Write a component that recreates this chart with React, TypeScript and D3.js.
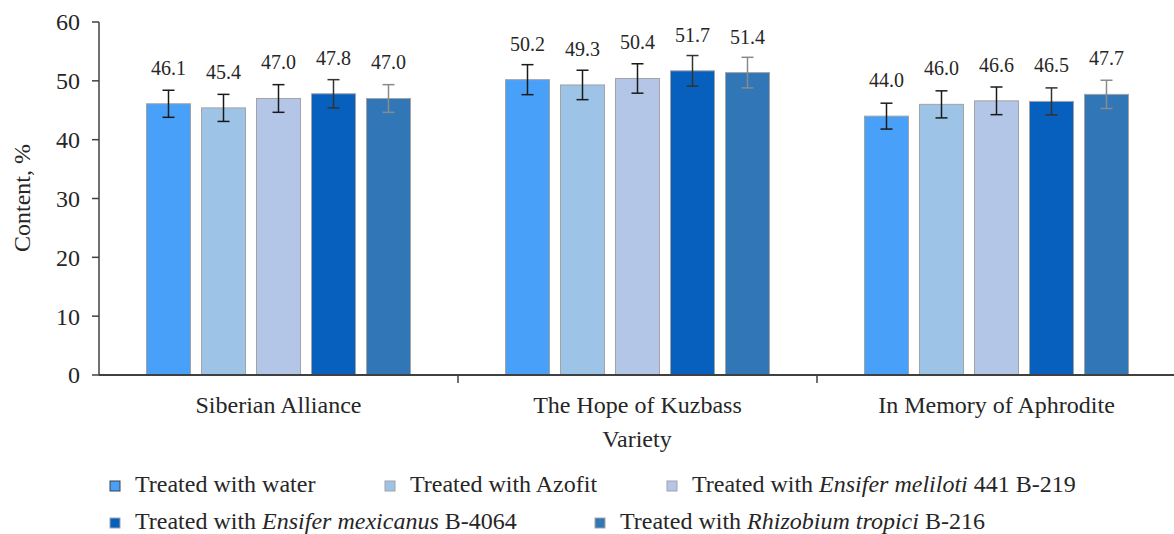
import React from "react";
import * as d3 from "d3";

const categories = ["Siberian Alliance", "The Hope of Kuzbass", "In Memory of Aphrodite"];
const seriesNames = ["water", "Azofit", "meliloti", "mexicanus", "tropici"];
const waterValues = [46.1, 50.2, 44.0];
const azofitValues = [45.4, 49.3, 46.0];
const melilotiValues = [47.0, 50.4, 46.6];
const mexicanusValues = [47.8, 51.7, 46.5];
const tropiciValues = [47.0, 51.4, 47.7];
const waterErrors = [2.3, 2.55, 2.2];
const azofitErrors = [2.3, 2.5, 2.3];
const melilotiErrors = [2.35, 2.5, 2.35];
const mexicanusErrors = [2.4, 2.6, 2.3];
const tropiciErrors = [2.35, 2.6, 2.4];
const yTicks = [0, 10, 20, 30, 40, 50, 60];

// legend labels: [plain prefix, italic part, plain suffix]
const legendLabels: [string, string, string][] = [
  ["Treated with water", "", ""],
  ["Treated with Azofit", "", ""],
  ["Treated with ", "Ensifer meliloti", " 441 B-219"],
  ["Treated with ", "Ensifer mexicanus", " B-4064"],
  ["Treated with ", "Rhizobium tropici", " B-216"],
];

const values = [waterValues, azofitValues, melilotiValues, mexicanusValues, tropiciValues];
const errors = [waterErrors, azofitErrors, melilotiErrors, mexicanusErrors, tropiciErrors];

const colors = ["#48a0f9", "#9dc3e6", "#b4c6e7", "#0760bd", "#3177b8"];
const errColors = ["#1a1a1a", "#1a1a1a", "#1a1a1a", "#333333", "#8a8a8a"];

// legend layout (text x, row baseline)
const legendPos = [
  { x: 135, y: 492 },
  { x: 410, y: 492 },
  { x: 692, y: 492 },
  { x: 135, y: 529 },
  { x: 620, y: 529 },
];

const W = 1174;
const H = 534;
const FONT = "'Liberation Serif', 'Times New Roman', serif";

export default function App() {
  const y = d3.scaleLinear().domain([0, 60]).range([375, 22]);
  const x0 = d3.scaleBand<string>().domain(categories).range([99, 1176]).padding(0);
  const x1 = d3
    .scaleBand<string>()
    .domain(seriesNames)
    .range([0, 264])
    .paddingInner(0.2)
    .paddingOuter(0);
  const groupOffset = (x0.bandwidth() - 264) / 2;
  const bw = x1.bandwidth();

  return (
    <svg width={W} height={H} style={{ position: "absolute", left: 0, top: 0 }} fontFamily={FONT}>
      <rect x={0} y={0} width={W} height={H} fill="#ffffff" />
      {/* bars */}
      {categories.map((c, ci) =>
        seriesNames.map((s, si) => {
          const v = values[si][ci];
          const bx = (x0(c) as number) + groupOffset + (x1(s) as number);
          return (
            <rect
              key={`b-${ci}-${si}`}
              x={bx}
              y={y(v)}
              width={bw}
              height={y(0) - y(v)}
              fill={colors[si]}
              stroke="#a3a3a3"
              strokeWidth={1}
            />
          );
        })
      )}
      {/* error bars */}
      {categories.map((c, ci) =>
        seriesNames.map((s, si) => {
          const v = values[si][ci];
          const e = errors[si][ci];
          const cx = (x0(c) as number) + groupOffset + (x1(s) as number) + bw / 2;
          const col = errColors[si];
          return (
            <g key={`e-${ci}-${si}`} stroke={col} strokeWidth={1.5}>
              <line x1={cx} x2={cx} y1={y(v + e)} y2={y(v - e)} />
              <line x1={cx - 6} x2={cx + 6} y1={y(v + e)} y2={y(v + e)} />
              <line x1={cx - 6} x2={cx + 6} y1={y(v - e)} y2={y(v - e)} />
            </g>
          );
        })
      )}
      {/* data labels */}
      {categories.map((c, ci) =>
        seriesNames.map((s, si) => {
          const v = values[si][ci];
          const cx = (x0(c) as number) + groupOffset + (x1(s) as number) + bw / 2;
          return (
            <text
              key={`l-${ci}-${si}`}
              x={cx}
              y={y(v) - 29}
              textAnchor="middle"
              fontSize={20}
              fontFamily={FONT}
              fill="#262626"
            >
              {v.toFixed(1)}
            </text>
          );
        })
      )}
      {/* y axis */}
      <line x1={99} x2={99} y1={y(60)} y2={y(0)} stroke="#404040" strokeWidth={1.5} />
      {yTicks.map((t) => (
        <g key={`t-${t}`}>
          <line x1={92} x2={99} y1={y(t)} y2={y(t)} stroke="#404040" strokeWidth={1.5} />
          <text
            x={80}
            y={y(t)}
            dy="0.35em"
            textAnchor="end"
            fontSize={24}
            fontFamily={FONT}
            fill="#262626"
          >
            {t}
          </text>
        </g>
      ))}
      {/* x axis */}
      <line x1={99} x2={W} y1={y(0)} y2={y(0)} stroke="#404040" strokeWidth={2} />
      {categories.map((c, ci) => (
        <g key={`c-${ci}`}>
          {ci > 0 && (
            <line
              x1={x0(c) as number}
              x2={x0(c) as number}
              y1={y(0)}
              y2={y(0) + 8}
              stroke="#404040"
              strokeWidth={1.5}
            />
          )}
          <text
            x={(x0(c) as number) + x0.bandwidth() / 2}
            y={413}
            textAnchor="middle"
            fontSize={24}
            fontFamily={FONT}
            fill="#262626"
          >
            {c}
          </text>
        </g>
      ))}
      <text x={637} y={447} textAnchor="middle" fontSize={24} fontFamily={FONT} fill="#262626">
        Variety
      </text>
      <text
        transform={`translate(30, 198) rotate(-90)`}
        textAnchor="middle"
        fontSize={24}
        fontFamily={FONT}
        fill="#262626"
      >
        Content, %
      </text>
      {/* legend */}
      {legendLabels.map((lab, i) => {
        const p = legendPos[i];
        return (
          <g key={`lg-${i}`}>
            <rect
              x={p.x - 25}
              y={p.y - 11}
              width={10}
              height={10}
              fill={colors[i]}
              stroke={i === 0 ? "#404040" : "#a3a3a3"}
              strokeWidth={1}
            />
            <text x={p.x} y={p.y} fontSize={24} fontFamily={FONT} fill="#262626">
              <tspan>{lab[0]}</tspan>
              {lab[1] && <tspan fontStyle="italic">{lab[1]}</tspan>}
              {lab[2] && <tspan>{lab[2]}</tspan>}
            </text>
          </g>
        );
      })}
    </svg>
  );
}
